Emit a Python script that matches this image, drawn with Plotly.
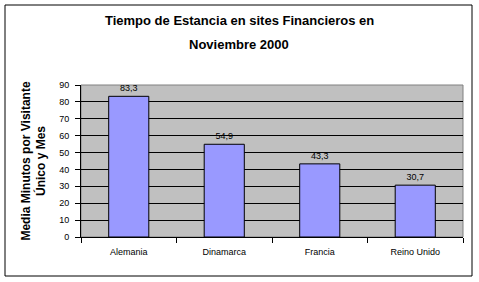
import plotly.graph_objects as go

categorias = ["Alemania", "Dinamarca", "Francia", "Reino Unido"]
valores = [83.3, 54.9, 43.3, 30.7]
etiquetas = ["83,3", "54,9", "43,3", "30,7"]
y_ticks = [0, 10, 20, 30, 40, 50, 60, 70, 80, 90]
titulo = ["Tiempo de Estancia en sites Financieros en", "Noviembre 2000"]

W, H = 479, 282
L, R, T, B = 81, 16, 85, 45
pw, ph = W - L - R, H - T - B

def px(x):
    return (x - L) / pw

def py(y):
    return (H - B - y) / ph

fig = go.Figure()
fig.add_trace(go.Bar(
    x=categorias, y=valores, text=etiquetas, textposition="outside",
    textfont=dict(family="Arial, Liberation Sans", size=9, color="black"),
    marker=dict(color="#9999FF", line=dict(color="black", width=1)),
    width=0.42, cliponaxis=False,
))

annotations = [
    dict(text=titulo[0], xref="paper", yref="paper", x=px(239), y=py(20),
         xanchor="center", yanchor="middle", showarrow=False,
         font=dict(family="Arial, Liberation Sans", size=13, color="black", weight="bold")),
    dict(text=titulo[1], xref="paper", yref="paper", x=px(239), y=py(44),
         xanchor="center", yanchor="middle", showarrow=False,
         font=dict(family="Arial, Liberation Sans", size=13, color="black", weight="bold")),
]

fig.update_layout(
    width=W, height=H,
    margin=dict(l=L, r=R, t=T, b=B),
    paper_bgcolor="white", plot_bgcolor="#C0C0C0",
    showlegend=False,
    font=dict(family="Arial, Liberation Sans", size=9, color="black"),
    annotations=annotations,
    xaxis=dict(
        showline=True, linecolor="black", linewidth=1,
        ticks="outside", ticklen=5, tickcolor="black", tickson="boundaries",
        tickfont=dict(size=9), showgrid=False, zeroline=False,
        ticklabelstandoff=6,
    ),
    yaxis=dict(
        range=[0, 90], tickvals=y_ticks, showline=True, linecolor="black", linewidth=1,
        ticks="outside", ticklen=5, tickcolor="black",
        showgrid=True, gridcolor="black", gridwidth=1, zeroline=False,
        tickfont=dict(size=9), ticklabelstandoff=4,
        title=dict(text="Media Minutos por Visitante<br>Único y Mes", standoff=10,
                   font=dict(size=12, weight="bold")),
    ),
    shapes=[
        dict(type="rect", xref="paper", yref="paper", x0=0, x1=1, y0=0, y1=1,
             line=dict(color="#808080", width=1), fillcolor="rgba(0,0,0,0)", layer="below"),
        dict(type="rect", xref="paper", yref="paper",
             x0=px(5), x1=px(472), y0=py(276), y1=py(5),
             line=dict(color="black", width=1), fillcolor="rgba(0,0,0,0)"),
    ],
)

fig.write_html("out.html")
